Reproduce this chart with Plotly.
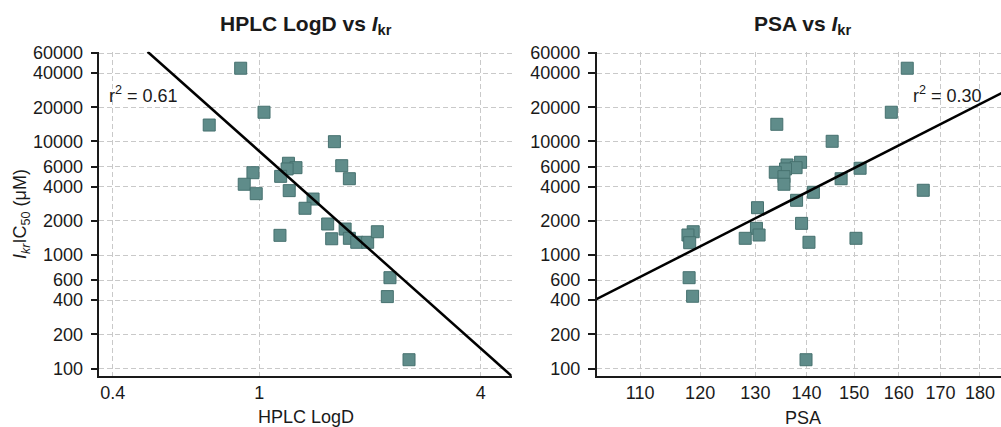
import plotly.graph_objects as go

# ---------------- data ----------------
hplc_logd = [0.890, 1.03, 0.731, 1.60, 1.20, 1.258, 1.19, 1.675, 1.757, 0.961,
             0.910, 0.981, 1.143, 1.206, 1.40, 1.331, 1.534, 1.138, 1.573, 1.711,
             1.757, 1.84, 1.97, 2.093, 2.265, 2.228, 2.552]
hplc_ic50 = [44200, 18100, 13960, 9960, 6430, 5880, 5730, 6120, 4700, 5310,
             4200, 3470, 4930, 3690, 3110, 2580, 1875, 1490, 1390, 1693,
             1403, 1294, 1294, 1603, 631, 430, 119.5]

psa = [162.0, 158.3, 134.1, 145.3, 138.8, 136.1, 137.9, 135.8, 133.8, 135.5,
       135.5, 151.3, 147.2, 165.8, 141.4, 138.0, 130.4, 139.0, 130.2, 130.7,
       128.1, 140.5, 150.4, 118.8, 117.9, 118.2, 118.1, 118.7, 139.9]
psa_ic50 = [44200, 18100, 14170, 10040, 6560, 6210, 5880, 5730, 5355, 4900,
            4200, 5810, 4700, 3717, 3567, 3033, 2610, 1900, 1718, 1500,
            1403, 1294, 1403, 1603, 1500, 1283, 631, 433, 119.5]

hplc_fit_x = [0.497, 4.85]
hplc_fit_y = [61800, 85.9]
psa_fit_x = [102, 190]
psa_fit_y = [374, 31350]

y_ticks = [100, 200, 400, 600, 1000, 2000, 4000, 6000, 10000, 20000, 40000, 60000]
x1_ticks = [0.4, 1, 4]
x2_ticks = [110, 120, 130, 140, 150, 160, 170, 180]

r2_hplc = "r<sup>2</sup> = 0.61"
r2_psa = "r<sup>2</sup> = 0.30"
title_hplc = "<b>HPLC LogD vs <i>I</i><sub>kr</sub></b>"
title_psa = "<b>PSA vs <i>I</i><sub>kr</sub></b>"
ytitle = "<i>I<sub>kr</sub></i>IC<sub>50</sub> (μM)"

# ---------------- figure ----------------
W, H = 1001, 427
FONT = "Arial, 'Liberation Sans', sans-serif"
MC = "#5f8c8a"
ML = "#46716f"

def px(x):
    return x / W

def py(y):
    return 1 - y / H

fig = go.Figure()
fig.add_trace(go.Scatter(x=hplc_logd, y=hplc_ic50, mode="markers", xaxis="x", yaxis="y",
                         marker=dict(symbol="square", size=12, color=MC, line=dict(color=ML, width=1))))
fig.add_trace(go.Scatter(x=hplc_fit_x, y=hplc_fit_y, mode="lines", xaxis="x", yaxis="y",
                         line=dict(color="black", width=2.5)))
fig.add_trace(go.Scatter(x=psa, y=psa_ic50, mode="markers", xaxis="x2", yaxis="y2",
                         marker=dict(symbol="square", size=12, color=MC, line=dict(color=ML, width=1))))
fig.add_trace(go.Scatter(x=psa_fit_x, y=psa_fit_y, mode="lines", xaxis="x2", yaxis="y2",
                         line=dict(color="black", width=2.5)))

ydom = [(H - 376) / H, (H - 51.7) / H]
grid = dict(showgrid=True, gridcolor="#c9c9c9", gridwidth=1, griddash="5px,3px")
axline = dict(showline=True, linecolor="#1a1a1a", linewidth=1.5, zeroline=False, automargin=False)
tickfont = dict(family=FONT, size=18, color="#1a1a1a")

yax = dict(type="log", range=[1.934, 4.791], domain=ydom, tickvals=y_ticks,
           ticktext=[str(v) for v in y_ticks], ticks="outside", ticklen=7,
           tickcolor="#1a1a1a", tickwidth=1.5, tickfont=tickfont, ticklabelstandoff=4,
           **grid, **axline)
xax_common = dict(ticks="", tickfont=tickfont, **grid, **axline)

fig.update_layout(
    template="none",
    width=W, height=H,
    margin=dict(l=0, r=0, t=0, b=0, autoexpand=False),
    paper_bgcolor="white", plot_bgcolor="white",
    showlegend=False,
    font=dict(family=FONT, color="#1a1a1a"),
    xaxis=dict(type="log", range=[-0.4348, 0.6859], domain=[99.3 / W, 511.7 / W],
               tickvals=x1_ticks, ticktext=[str(v) for v in x1_ticks], anchor="y", **xax_common),
    yaxis=dict(anchor="x", **yax),
    xaxis2=dict(type="log", range=[2.0141, 2.2685], domain=[596.7 / W, 1.0],
                tickvals=x2_ticks, ticktext=[str(v) for v in x2_ticks], anchor="y2", **xax_common),
    yaxis2=dict(anchor="x2", **yax),
)

ann = [
    dict(text=title_hplc, x=px(305.5), y=py(25), font=dict(size=21)),
    dict(text=title_psa, x=px(802.7), y=py(25), font=dict(size=21)),
    dict(text="HPLC LogD", x=px(305.5), y=py(417), font=dict(size=18)),
    dict(text="PSA", x=px(802.7), y=py(418), font=dict(size=18)),
    dict(text=ytitle, x=px(21), y=py(214), font=dict(size=18), textangle=-90),
    dict(text=r2_hplc, x=px(107), y=py(94), xanchor="left", font=dict(size=18)),
    dict(text=r2_psa, x=px(984), y=py(94), xanchor="right", font=dict(size=18)),
]
for a in ann:
    a.setdefault("xanchor", "center")
    a.update(xref="paper", yref="paper", yanchor="middle", showarrow=False)
    a["font"].update(family=FONT, color="#1a1a1a")
fig.update_layout(annotations=ann)

fig.write_html("out.html", config={"displayModeBar": False},
               post_script="document.body.style.margin='0px';document.body.style.overflow='hidden';")
